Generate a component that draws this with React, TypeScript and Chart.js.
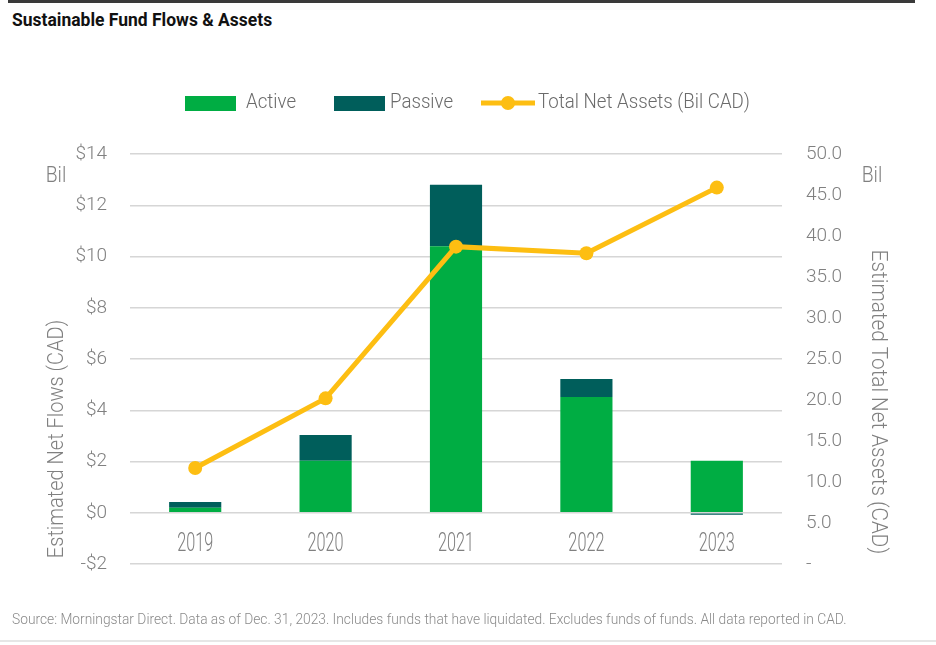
import React, { useEffect, useRef } from "react";
import { Chart, registerables } from "chart.js";

Chart.register(...registerables);

const years = ["2019", "2020", "2021", "2022", "2023"];
const activeFlows = [0.2, 2.03, 10.4, 4.52, 2.03];
const passiveFlows = [0.22, 1.0, 2.4, 0.7, -0.08];
const totalNetAssets = [11.7, 20.2, 38.7, 37.9, 45.9];

const seriesLabels = ["Active", "Passive", "Total Net Assets (Bil CAD)"];
const leftAxisTitle = "Estimated Net Flows (CAD)";
const rightAxisTitle = "Estimated Total Net Assets (CAD)";
const unitLabel = "Bil";
const chartTitle = "Sustainable Fund Flows & Assets";
const sourceNote =
  "Source: Morningstar Direct. Data as of Dec. 31, 2023. Includes funds that have liquidated. Excludes funds of funds. All data reported in CAD.";

const FONT = "Roboto, 'DejaVu Sans Condensed', sans-serif";
const GREEN = "#00AD43";
const TEAL = "#005E5B";
const YELLOW = "#FDBE12";
const GRAY = "#808080";
const LEGEND_GRAY = "#6b6b6b";

function condensedText(
  ctx: CanvasRenderingContext2D,
  text: string,
  x: number,
  y: number,
  sx: number,
  rotate = 0
) {
  ctx.save();
  ctx.translate(x, y);
  if (rotate) ctx.rotate(rotate);
  ctx.scale(sx, 1);
  ctx.fillText(text, 0, 0);
  ctx.restore();
}

const extrasPlugin = {
  id: "extras",
  afterDraw(chart: any) {
    const ctx = chart.ctx as CanvasRenderingContext2D;
    ctx.save();
    // Legend
    const ly = 103;
    ctx.font = `300 21px ${FONT}`;
    ctx.textBaseline = "middle";
    ctx.textAlign = "left";
    const ds = chart.data.datasets;
    ctx.fillStyle = ds[0].backgroundColor;
    ctx.fillRect(185, 96, 51, 15);
    ctx.fillStyle = LEGEND_GRAY;
    condensedText(ctx, ds[0].label, 246, ly, 0.89);
    ctx.fillStyle = ds[1].backgroundColor;
    ctx.fillRect(334, 96, 51, 15);
    ctx.fillStyle = LEGEND_GRAY;
    condensedText(ctx, ds[1].label, 390, ly, 0.89);
    ctx.strokeStyle = ds[2].borderColor;
    ctx.lineWidth = 5;
    ctx.beginPath();
    ctx.moveTo(481, ly);
    ctx.lineTo(535, ly);
    ctx.stroke();
    ctx.fillStyle = ds[2].borderColor;
    ctx.beginPath();
    ctx.arc(508, ly, 7, 0, Math.PI * 2);
    ctx.fill();
    ctx.fillStyle = LEGEND_GRAY;
    condensedText(ctx, ds[2].label, 538, ly, 0.89);

    // Category labels next to the zero line
    const xs = chart.scales.x;
    const ys = chart.scales.y;
    const zeroY = ys.getPixelForValue(0);
    ctx.fillStyle = GRAY;
    ctx.font = `300 25px ${FONT}`;
    ctx.textAlign = "center";
    chart.data.labels.forEach((lab: string, i: number) => {
      condensedText(ctx, lab, xs.getPixelForValue(i), zeroY + 32, 0.65);
    });

    // Unit labels
    ctx.font = `300 22px ${FONT}`;
    condensedText(ctx, unitLabel, 56, 176, 0.88);
    condensedText(ctx, unitLabel, 872, 176, 0.88);

    // Axis titles
    condensedText(ctx, leftAxisTitle, 57, 439, 0.91, -Math.PI / 2);
    condensedText(ctx, rightAxisTitle, 877, 402, 0.94, Math.PI / 2);
    ctx.restore();
  },
};

function App() {
  const canvasRef = useRef<HTMLCanvasElement | null>(null);

  useEffect(() => {
    if (!canvasRef.current) return;
    Chart.defaults.font.family = FONT;
    const chart = new Chart(canvasRef.current, {
      type: "bar",
      data: {
        labels: years,
        datasets: [
          {
            type: "bar",
            label: seriesLabels[0],
            data: activeFlows,
            backgroundColor: GREEN,
            yAxisID: "y",
            stack: "flows",
            order: 2,
            barPercentage: 0.4,
            categoryPercentage: 1,
          },
          {
            type: "bar",
            label: seriesLabels[1],
            data: passiveFlows,
            backgroundColor: TEAL,
            yAxisID: "y",
            stack: "flows",
            order: 2,
            barPercentage: 0.4,
            categoryPercentage: 1,
          },
          {
            type: "line",
            label: seriesLabels[2],
            data: totalNetAssets,
            borderColor: YELLOW,
            backgroundColor: YELLOW,
            borderWidth: 5,
            pointRadius: 7,
            pointBackgroundColor: YELLOW,
            pointBorderColor: YELLOW,
            pointBorderWidth: 0,
            tension: 0,
            yAxisID: "y1",
            order: 0,
          } as any,
        ],
      },
      options: {
        animation: false,
        responsive: true,
        maintainAspectRatio: false,
        layout: { padding: { top: 154, left: 0, right: 0, bottom: 0 } },
        plugins: {
          legend: { display: false },
          tooltip: { enabled: false },
        },
        scales: {
          x: {
            stacked: true,
            grid: { display: false },
            border: { display: false },
            ticks: { display: false },
            afterFit: (s: any) => {
              s.height = 81;
            },
          },
          y: {
            position: "left",
            stacked: true,
            min: -2,
            max: 14,
            grid: { color: "#d6d6d6", lineWidth: 1.5, drawTicks: false },
            border: { display: false },
            ticks: {
              stepSize: 2,
              color: GRAY,
              font: { size: 19, family: FONT, weight: 300 as any },
              padding: 23,
              callback: (v: any) => (v < 0 ? "-$" + Math.abs(v) : "$" + v),
            },
            afterFit: (s: any) => {
              s.width = 130;
            },
          },
          y1: {
            position: "right",
            min: 0,
            max: 50,
            grid: { display: false, drawTicks: false },
            border: { display: false },
            ticks: {
              stepSize: 5,
              color: GRAY,
              font: { size: 19, family: FONT, weight: 300 as any },
              padding: 24,
              callback: (v: any) => (v === 0 ? "-" : Number(v).toFixed(1)),
            },
            afterFit: (s: any) => {
              s.width = 154;
            },
          },
        },
      },
      plugins: [extrasPlugin],
    });
    return () => chart.destroy();
  }, []);

  return (
    <div
      style={{
        position: "absolute",
        left: 0,
        top: 0,
        width: 936,
        height: 645,
        background: "#fff",
        fontFamily: FONT,
        overflow: "hidden",
      }}
    >
      <div
        style={{
          position: "absolute",
          left: 8,
          top: 0,
          width: 907,
          height: 3,
          background: "#3a3a3a",
        }}
      />
      <div
        style={{
          position: "absolute",
          left: 12,
          top: 8,
          fontSize: 19,
          fontWeight: "bold",
          color: "#111",
          whiteSpace: "nowrap",
          transform: "scaleX(0.92)",
          transformOrigin: "left top",
        }}
      >
        {chartTitle}
      </div>
      <div style={{ position: "absolute", left: 0, top: 0, width: 936, height: 645 }}>
        <canvas ref={canvasRef} />
      </div>
      <div
        style={{
          position: "absolute",
          left: 12,
          top: 610,
          fontSize: 15,
          fontWeight: 300,
          color: "#8a8a8a",
          whiteSpace: "nowrap",
          transform: "scaleX(0.918)",
          transformOrigin: "left top",
        }}
      >
        {sourceNote}
      </div>
      <div
        style={{
          position: "absolute",
          left: 0,
          top: 640,
          width: 936,
          height: 2,
          background: "#e6e6e6",
        }}
      />
    </div>
  );
}

export default App;
